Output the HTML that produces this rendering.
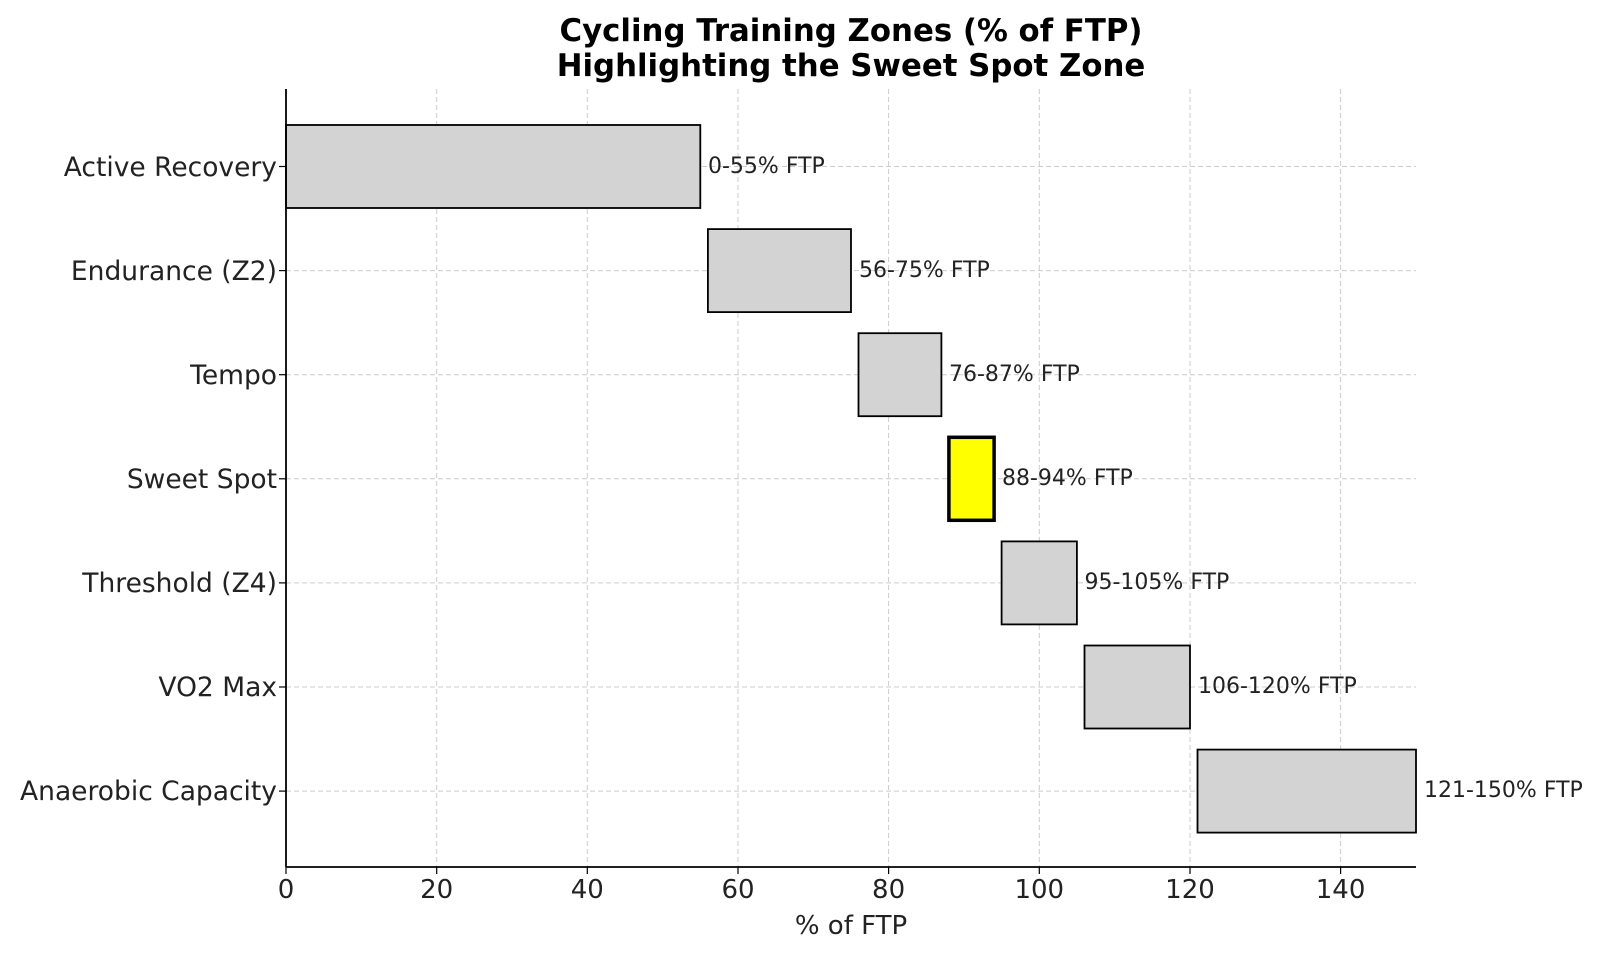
<!DOCTYPE html>
<html><head><meta charset="utf-8"><style>body{margin:0;background:#fff}</style></head><body>
<svg width="1600" height="954" xmlns="http://www.w3.org/2000/svg" font-family="DejaVu Sans, Liberation Sans, sans-serif">
<rect width="1600" height="954" fill="#fff"/>
<text x="851" y="41" text-anchor="middle" font-size="30.8" font-weight="bold">Cycling Training Zones (% of FTP)</text>
<text x="851" y="76" text-anchor="middle" font-size="30.8" font-weight="bold">Highlighting the Sweet Spot Zone</text>
<g stroke="#ccc" stroke-width="1" stroke-dasharray="5,3">
<line x1="436.7" y1="89" x2="436.7" y2="867"/><line x1="587.3" y1="89" x2="587.3" y2="867"/><line x1="738" y1="89" x2="738" y2="867"/><line x1="888.6" y1="89" x2="888.6" y2="867"/><line x1="1039.3" y1="89" x2="1039.3" y2="867"/><line x1="1190" y1="89" x2="1190" y2="867"/><line x1="1340.6" y1="89" x2="1340.6" y2="867"/>
<line x1="286" y1="166.5" x2="1416" y2="166.5"/><line x1="286" y1="270.6" x2="1416" y2="270.6"/><line x1="286" y1="374.7" x2="1416" y2="374.7"/><line x1="286" y1="478.8" x2="1416" y2="478.8"/><line x1="286" y1="582.9" x2="1416" y2="582.9"/><line x1="286" y1="687" x2="1416" y2="687"/><line x1="286" y1="791.1" x2="1416" y2="791.1"/>
</g>
<g fill="#d3d3d3" stroke="#000" stroke-width="1.8">
<rect x="286" y="125" width="414.3" height="83"/>
<rect x="707.9" y="229.1" width="143.1" height="83"/>
<rect x="858.5" y="333.2" width="82.9" height="83"/>
<rect x="1001.6" y="541.4" width="75.3" height="83"/>
<rect x="1084.5" y="645.5" width="105.5" height="83"/>
<rect x="1197.5" y="749.6" width="218.5" height="83"/>
</g>
<rect x="948.9" y="437.3" width="45.2" height="83" fill="#ffff00" stroke="#000" stroke-width="3.5"/>
<g font-size="22" fill="#222">
<text x="708" y="173">0-55% FTP</text>
<text x="859" y="277">56-75% FTP</text>
<text x="949" y="381">76-87% FTP</text>
<text x="1002" y="485">88-94% FTP</text>
<text x="1084.5" y="589">95-105% FTP</text>
<text x="1198" y="693">106-120% FTP</text>
<text x="1424" y="797">121-150% FTP</text>
</g>
<g stroke="#000" stroke-width="1.8">
<line x1="286" y1="89" x2="286" y2="867"/><line x1="286" y1="867" x2="1416" y2="867"/>
</g>
<g stroke="#000" stroke-width="1.2">
<line x1="286" y1="867" x2="286" y2="874"/><line x1="436.7" y1="867" x2="436.7" y2="874"/><line x1="587.3" y1="867" x2="587.3" y2="874"/><line x1="738" y1="867" x2="738" y2="874"/><line x1="888.6" y1="867" x2="888.6" y2="874"/><line x1="1039.3" y1="867" x2="1039.3" y2="874"/><line x1="1190" y1="867" x2="1190" y2="874"/><line x1="1340.6" y1="867" x2="1340.6" y2="874"/>
<line x1="279" y1="166.5" x2="286" y2="166.5"/><line x1="279" y1="270.6" x2="286" y2="270.6"/><line x1="279" y1="374.7" x2="286" y2="374.7"/><line x1="279" y1="478.8" x2="286" y2="478.8"/><line x1="279" y1="582.9" x2="286" y2="582.9"/><line x1="279" y1="687" x2="286" y2="687"/><line x1="279" y1="791.1" x2="286" y2="791.1"/>
</g>
<g font-size="26" fill="#222" text-anchor="middle">
<text x="286" y="898">0</text><text x="436.7" y="898">20</text><text x="587.3" y="898">40</text><text x="738" y="898">60</text><text x="888.6" y="898">80</text><text x="1039.3" y="898">100</text><text x="1190" y="898">120</text><text x="1340.6" y="898">140</text>
<text x="851" y="934">% of FTP</text>
</g>
<g font-size="26.5" fill="#222" text-anchor="end">
<text x="277" y="176">Active Recovery</text>
<text x="277" y="280">Endurance (Z2)</text>
<text x="277" y="384">Tempo</text>
<text x="277" y="488">Sweet Spot</text>
<text x="277" y="592">Threshold (Z4)</text>
<text x="277" y="696">VO2 Max</text>
<text x="277" y="800">Anaerobic Capacity</text>
</g>
</svg>
</body></html>
